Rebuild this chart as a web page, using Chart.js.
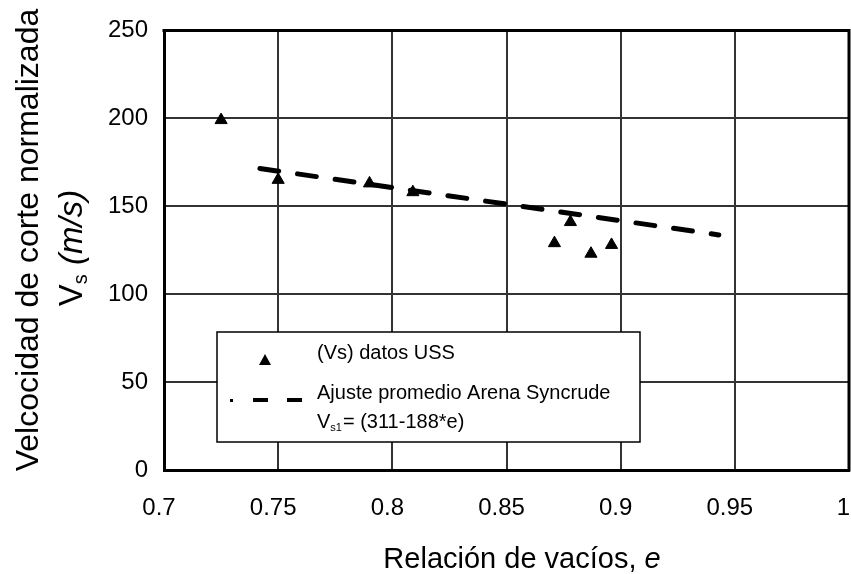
<!DOCTYPE html>
<html>
<head>
<meta charset="utf-8">
<script src="https://cdn.jsdelivr.net/npm/chart.js@4/dist/chart.umd.min.js"></script>
<style>
  body { margin: 0; background: #fff; }
</style>
</head>
<body>
<canvas id="chart" width="851" height="574"></canvas>
<script>
  // data
  const voidRatio = [0.725, 0.750, 0.790, 0.809, 0.871, 0.878, 0.887, 0.896];
  const vsUSS = [199, 165, 163, 158, 129, 141, 123, 128];
  const fitE = [0.742, 0.943];
  const fitVs = [171.5, 133.7];
  const xTicks = [0.7, 0.75, 0.8, 0.85, 0.9, 0.95, 1];
  const yTicks = [0, 50, 100, 150, 200, 250];

  const FONT = "'Liberation Sans', Arial, sans-serif";
  Chart.defaults.font.family = FONT;
  Chart.defaults.color = '#000';

  const decor = {
    id: 'decor',
    afterDraw(chart) {
      const { ctx, chartArea: a } = chart;
      const xs = chart.scales.x;
      ctx.save();
      // top and right frame
      ctx.strokeStyle = '#000';
      ctx.lineWidth = 3;
      ctx.beginPath();
      ctx.moveTo(a.left - 1.5, a.top);
      ctx.lineTo(a.right, a.top);
      ctx.lineTo(a.right, a.bottom + 1.5);
      ctx.stroke();

      // x tick labels (last one kept inside the canvas)
      ctx.fillStyle = '#000';
      ctx.font = '24px ' + FONT;
      ctx.textBaseline = 'alphabetic';
      xTicks.forEach((v, i) => {
        const px = xs.getPixelForValue(v);
        const txt = String(v);
        if (i === xTicks.length - 1) {
          ctx.textAlign = 'right';
          ctx.fillText(txt, chart.width - 1, 515);
        } else {
          ctx.textAlign = 'center';
          ctx.fillText(txt, px - 5, 515);
        }
      });

      // legend box
      ctx.fillStyle = '#fff';
      ctx.fillRect(217, 332, 423, 110);
      ctx.lineWidth = 1.5;
      ctx.strokeRect(217, 332, 423, 110);
      ctx.fillStyle = '#000';
      ctx.beginPath();
      ctx.moveTo(265, 354);
      ctx.lineTo(271, 365);
      ctx.lineTo(259, 365);
      ctx.closePath();
      ctx.fill();
      ctx.fillRect(230, 399, 3, 3);
      ctx.fillRect(253, 398, 15, 4);
      ctx.fillRect(287, 398, 15, 4);
      ctx.font = '20px ' + FONT;
      ctx.textAlign = 'left';
      ctx.fillText('(Vs) datos USS', 317, 359);
      ctx.fillText('Ajuste promedio Arena Syncrude', 317, 399);
      ctx.fillText('V', 317, 428);
      const w = ctx.measureText('V').width;
      ctx.font = '11px ' + FONT;
      ctx.fillText('s1', 317 + w, 431);
      const w2 = ctx.measureText('s1').width;
      ctx.font = '20px ' + FONT;
      ctx.fillText('= (311-188*e)', 318 + w + w2, 428);

      // x title
      ctx.font = '29px ' + FONT;
      const t1 = 'Relación de vacíos, ';
      const tw1 = ctx.measureText(t1).width;
      ctx.font = 'italic 29px ' + FONT;
      const tw2 = ctx.measureText('e').width;
      const x0 = 522 - (tw1 + tw2) / 2;
      ctx.font = '29px ' + FONT;
      ctx.fillText(t1, x0, 568);
      ctx.font = 'italic 29px ' + FONT;
      ctx.fillText('e', x0 + tw1, 568);

      // y title (rotated)
      ctx.save();
      ctx.translate(38, 240);
      ctx.rotate(-Math.PI / 2);
      ctx.font = '32px ' + FONT;
      ctx.textAlign = 'center';
      ctx.fillText('Velcocidad de corte normalizada', 0, 0);
      ctx.restore();

      ctx.save();
      ctx.translate(82, 248);
      ctx.rotate(-Math.PI / 2);
      ctx.textAlign = 'left';
      ctx.font = '33px ' + FONT;
      const a1 = ctx.measureText('V').width;
      ctx.font = '20px ' + FONT;
      const a2 = ctx.measureText('s').width;
      ctx.font = 'italic 33px ' + FONT;
      const a3 = ctx.measureText(' (m/s)').width;
      const sx = -(a1 + a2 + a3) / 2;
      ctx.font = '33px ' + FONT;
      ctx.fillText('V', sx, 0);
      ctx.font = '20px ' + FONT;
      ctx.fillText('s', sx + a1, 5);
      ctx.font = 'italic 33px ' + FONT;
      ctx.fillText(' (m/s)', sx + a1 + a2, 0);
      ctx.restore();

      ctx.restore();
    }
  };

  new Chart(document.getElementById('chart'), {
    type: 'scatter',
    data: {
      datasets: [
        {
          label: '(Vs) datos USS',
          data: voidRatio.map((e, i) => ({ x: e, y: vsUSS[i] })),
          pointStyle: 'triangle',
          pointRadius: 7,
          pointBackgroundColor: '#000',
          pointBorderColor: '#000',
          pointBorderWidth: 1,
          order: 1,
        },
        {
          label: 'Ajuste promedio Arena Syncrude',
          type: 'line',
          data: fitE.map((e, i) => ({ x: e, y: fitVs[i] })),
          borderColor: '#000',
          borderWidth: 5,
          borderDash: [19, 19],
          borderCapStyle: 'round',
          pointRadius: 0,
          fill: false,
          order: 2,
        },
      ],
    },
    options: {
      responsive: false,
      animation: false,
      layout: { autoPadding: false, padding: { top: 27, right: 2, left: 0, bottom: 0 } },
      plugins: { legend: { display: false }, tooltip: { enabled: false } },
      scales: {
        x: {
          type: 'linear',
          min: 0.7,
          max: 1,
          afterBuildTicks: (s) => { s.ticks = xTicks.map((v) => ({ value: v })); },
          afterFit: (s) => { s.height = 104; },
          ticks: { display: false },
          grid: { color: '#333', lineWidth: 2, drawTicks: false },
          border: { color: '#000', width: 3 },
        },
        y: {
          min: 0,
          max: 250,
          afterBuildTicks: (s) => { s.ticks = yTicks.map((v) => ({ value: v })); },
          afterFit: (s) => { s.width = 164; },
          ticks: { font: { size: 24 }, padding: 16 },
          grid: { color: '#333', lineWidth: 2, drawTicks: false },
          border: { color: '#000', width: 3 },
        },
      },
    },
    plugins: [decor],
  });
</script>
</body>
</html>
